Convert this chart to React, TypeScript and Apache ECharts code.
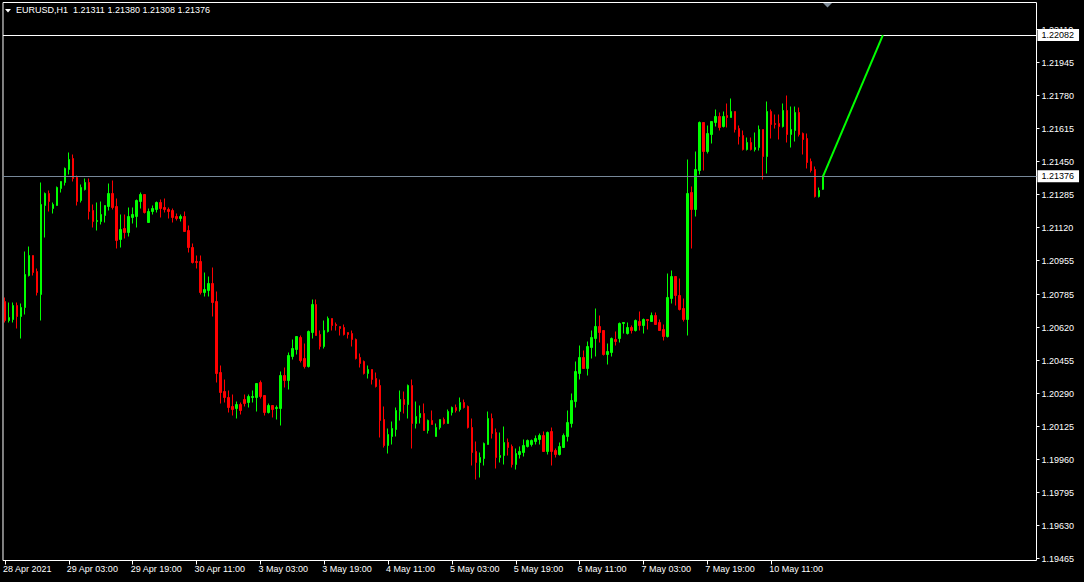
import React, { useEffect, useRef } from 'react';
import * as echarts from 'echarts';

// ---- data (EURUSD H1) ----
const opens = [
  1.20750, 1.20655, 1.20660, 1.20730, 1.20675, 1.20720, 1.20880, 1.20980, 1.20900, 1.20785,
  1.21230, 1.21290, 1.21215, 1.21230, 1.21315, 1.21345, 1.21410, 1.21465, 1.21370, 1.21255,
  1.21310, 1.21345, 1.21205, 1.21150, 1.21150, 1.21180, 1.21225, 1.21290, 1.21225, 1.21060,
  1.21115, 1.21095, 1.21170, 1.21175, 1.21250, 1.21285, 1.21145, 1.21200, 1.21210, 1.21245,
  1.21220, 1.21210, 1.21205, 1.21175, 1.21165, 1.21175, 1.21105, 1.21020, 1.20950, 1.20950,
  1.20795, 1.20805, 1.20840, 1.20750, 1.20395, 1.20300, 1.20270, 1.20225, 1.20215, 1.20235,
  1.20260, 1.20245, 1.20270, 1.20270, 1.20345, 1.20280, 1.20195, 1.20230, 1.20215, 1.20215,
  1.20380, 1.20355, 1.20475, 1.20510, 1.20570, 1.20465, 1.20425, 1.20595, 1.20735, 1.20585,
  1.20525, 1.20600, 1.20665, 1.20635, 1.20625, 1.20620, 1.20595, 1.20590, 1.20560, 1.20470,
  1.20450, 1.20390, 1.20410, 1.20365, 1.20330, 1.20160, 1.20030, 1.20075, 1.20110, 1.20200,
  1.20260, 1.20235, 1.20330, 1.20140, 1.20170, 1.20190, 1.20105, 1.20155, 1.20075, 1.20120,
  1.20160, 1.20140, 1.20195, 1.20220, 1.20210, 1.20245, 1.20225, 1.20120, 1.20000, 1.19945,
  1.19965, 1.20035, 1.20165, 1.20095, 1.19970, 1.19980, 1.20045, 1.20025, 1.19935, 1.19985,
  1.19995, 1.20025, 1.20035, 1.20050, 1.20060, 1.20080, 1.20000, 1.20100, 1.20005, 1.19985,
  1.20020, 1.20075, 1.20140, 1.20250, 1.20390, 1.20470, 1.20415, 1.20520, 1.20565, 1.20625,
  1.20605, 1.20485, 1.20495, 1.20560, 1.20565, 1.20640, 1.20590, 1.20620, 1.20605, 1.20650,
  1.20630, 1.20660, 1.20650, 1.20680, 1.20645, 1.20610, 1.20575, 1.20765, 1.20875, 1.20780,
  1.20715, 1.20660, 1.21295, 1.21210, 1.21405, 1.21645, 1.21500, 1.21585, 1.21645, 1.21675,
  1.21625, 1.21680, 1.21670, 1.21700, 1.21615, 1.21580, 1.21510, 1.21545, 1.21510, 1.21520,
  1.21610, 1.21475, 1.21700, 1.21640, 1.21640, 1.21625, 1.21705, 1.21585, 1.21605, 1.21695,
  1.21590, 1.21565, 1.21450, 1.21410, 1.21275, 1.21311,
];

const closes = [
  1.20655, 1.20670, 1.20730, 1.20675, 1.20720, 1.20885, 1.20980, 1.20895, 1.20795, 1.21235,
  1.21290, 1.21250, 1.21235, 1.21320, 1.21350, 1.21415, 1.21460, 1.21365, 1.21250, 1.21320,
  1.21345, 1.21200, 1.21150, 1.21155, 1.21185, 1.21230, 1.21290, 1.21220, 1.21055, 1.21110,
  1.21095, 1.21175, 1.21185, 1.21255, 1.21285, 1.21195, 1.21200, 1.21215, 1.21245, 1.21215,
  1.21210, 1.21200, 1.21170, 1.21165, 1.21175, 1.21100, 1.21020, 1.20945, 1.20945, 1.20795,
  1.20810, 1.20840, 1.20745, 1.20390, 1.20295, 1.20270, 1.20220, 1.20210, 1.20235, 1.20205,
  1.20240, 1.20275, 1.20275, 1.20340, 1.20275, 1.20195, 1.20230, 1.20210, 1.20220, 1.20380,
  1.20355, 1.20480, 1.20515, 1.20575, 1.20455, 1.20425, 1.20600, 1.20735, 1.20580, 1.20525,
  1.20605, 1.20665, 1.20630, 1.20630, 1.20615, 1.20585, 1.20585, 1.20560, 1.20465, 1.20440,
  1.20390, 1.20410, 1.20360, 1.20325, 1.20155, 1.20030, 1.20085, 1.20115, 1.20205, 1.20260,
  1.20235, 1.20330, 1.20140, 1.20175, 1.20190, 1.20105, 1.20155, 1.20135, 1.20120, 1.20160,
  1.20140, 1.20200, 1.20220, 1.20205, 1.20245, 1.20220, 1.20120, 1.19995, 1.19945, 1.19970,
  1.20040, 1.20165, 1.20090, 1.19970, 1.19980, 1.20045, 1.20020, 1.19935, 1.19990, 1.20000,
  1.20030, 1.20055, 1.20055, 1.20065, 1.20080, 1.20000, 1.20095, 1.20000, 1.19985, 1.20025,
  1.20080, 1.20145, 1.20255, 1.20400, 1.20470, 1.20415, 1.20525, 1.20570, 1.20625, 1.20595,
  1.20485, 1.20500, 1.20565, 1.20550, 1.20640, 1.20645, 1.20620, 1.20605, 1.20655, 1.20630,
  1.20660, 1.20655, 1.20680, 1.20635, 1.20605, 1.20575, 1.20770, 1.20875, 1.20780, 1.20710,
  1.20660, 1.21290, 1.21210, 1.21410, 1.21645, 1.21500, 1.21590, 1.21650, 1.21675, 1.21620,
  1.21675, 1.21670, 1.21700, 1.21610, 1.21575, 1.21510, 1.21545, 1.21510, 1.21520, 1.21610,
  1.21475, 1.21700, 1.21635, 1.21635, 1.21625, 1.21705, 1.21585, 1.21610, 1.21695, 1.21585,
  1.21560, 1.21445, 1.21405, 1.21275, 1.21305, 1.21376,
];

const lows = [
  1.20645, 1.20645, 1.20645, 1.20615, 1.20565, 1.20685, 1.20875, 1.20880, 1.20780, 1.20655,
  1.21070, 1.21200, 1.21190, 1.21230, 1.21295, 1.21330, 1.21385, 1.21350, 1.21230, 1.21245,
  1.21305, 1.21160, 1.21120, 1.21105, 1.21135, 1.21145, 1.21205, 1.21210, 1.21015, 1.21020,
  1.21065, 1.21075, 1.21140, 1.21120, 1.21215, 1.21190, 1.21145, 1.21185, 1.21195, 1.21170,
  1.21195, 1.21165, 1.21145, 1.21155, 1.21150, 1.21100, 1.20995, 1.20940, 1.20915, 1.20785,
  1.20775, 1.20775, 1.20675, 1.20345, 1.20240, 1.20245, 1.20195, 1.20180, 1.20165, 1.20185,
  1.20225, 1.20220, 1.20245, 1.20200, 1.20265, 1.20180, 1.20190, 1.20170, 1.20160, 1.20130,
  1.20320, 1.20310, 1.20460, 1.20485, 1.20445, 1.20415, 1.20420, 1.20565, 1.20580, 1.20510,
  1.20515, 1.20595, 1.20605, 1.20605, 1.20580, 1.20580, 1.20565, 1.20525, 1.20460, 1.20420,
  1.20385, 1.20365, 1.20335, 1.20320, 1.20070, 1.20020, 1.19990, 1.20035, 1.20075, 1.20155,
  1.20190, 1.20165, 1.20015, 1.20115, 1.20140, 1.20105, 1.20090, 1.20135, 1.20075, 1.20110,
  1.20135, 1.20140, 1.20180, 1.20195, 1.20200, 1.20215, 1.20115, 1.19930, 1.19860, 1.19870,
  1.19930, 1.20035, 1.20065, 1.19915, 1.19945, 1.19935, 1.19980, 1.19920, 1.19910, 1.19965,
  1.19975, 1.20020, 1.20025, 1.20035, 1.20035, 1.20000, 1.19985, 1.19930, 1.19970, 1.19980,
  1.20020, 1.20050, 1.20120, 1.20220, 1.20360, 1.20415, 1.20380, 1.20465, 1.20475, 1.20545,
  1.20480, 1.20435, 1.20475, 1.20530, 1.20545, 1.20590, 1.20585, 1.20590, 1.20600, 1.20605,
  1.20590, 1.20610, 1.20650, 1.20635, 1.20605, 1.20555, 1.20570, 1.20740, 1.20730, 1.20705,
  1.20650, 1.20580, 1.21015, 1.21175, 1.21385, 1.21405, 1.21490, 1.21540, 1.21625, 1.21605,
  1.21620, 1.21620, 1.21670, 1.21595, 1.21535, 1.21505, 1.21505, 1.21505, 1.21500, 1.21505,
  1.21360, 1.21390, 1.21565, 1.21615, 1.21560, 1.21620, 1.21545, 1.21520, 1.21550, 1.21575,
  1.21485, 1.21415, 1.21395, 1.21270, 1.21270, 1.21308,
];

const highs = [
  1.20770, 1.20745, 1.20745, 1.20745, 1.20740, 1.21000, 1.21025, 1.20980, 1.20915, 1.21345,
  1.21295, 1.21305, 1.21245, 1.21325, 1.21350, 1.21420, 1.21495, 1.21485, 1.21380, 1.21335,
  1.21365, 1.21365, 1.21235, 1.21245, 1.21250, 1.21230, 1.21340, 1.21355, 1.21265, 1.21185,
  1.21185, 1.21220, 1.21220, 1.21260, 1.21295, 1.21285, 1.21215, 1.21230, 1.21250, 1.21260,
  1.21265, 1.21220, 1.21215, 1.21190, 1.21185, 1.21200, 1.21130, 1.21040, 1.20980, 1.20980,
  1.20895, 1.20875, 1.20920, 1.20800, 1.20430, 1.20360, 1.20305, 1.20285, 1.20250, 1.20245,
  1.20285, 1.20285, 1.20305, 1.20340, 1.20355, 1.20280, 1.20240, 1.20230, 1.20230, 1.20400,
  1.20420, 1.20495, 1.20560, 1.20575, 1.20580, 1.20540, 1.20605, 1.20760, 1.20760, 1.20605,
  1.20655, 1.20675, 1.20665, 1.20645, 1.20625, 1.20635, 1.20595, 1.20605, 1.20565, 1.20490,
  1.20455, 1.20430, 1.20410, 1.20395, 1.20360, 1.20225, 1.20115, 1.20150, 1.20220, 1.20305,
  1.20300, 1.20335, 1.20360, 1.20250, 1.20230, 1.20240, 1.20160, 1.20205, 1.20140, 1.20160,
  1.20170, 1.20210, 1.20225, 1.20235, 1.20270, 1.20260, 1.20230, 1.20165, 1.20050, 1.19995,
  1.20045, 1.20200, 1.20190, 1.20115, 1.20095, 1.20125, 1.20065, 1.20035, 1.20015, 1.20025,
  1.20060, 1.20060, 1.20060, 1.20080, 1.20090, 1.20100, 1.20100, 1.20120, 1.20015, 1.20045,
  1.20090, 1.20205, 1.20290, 1.20450, 1.20530, 1.20505, 1.20550, 1.20605, 1.20715, 1.20680,
  1.20605, 1.20540, 1.20570, 1.20600, 1.20645, 1.20645, 1.20645, 1.20630, 1.20660, 1.20700,
  1.20665, 1.20660, 1.20695, 1.20695, 1.20660, 1.20635, 1.20890, 1.20905, 1.20875, 1.20865,
  1.20765, 1.21460, 1.21325, 1.21500, 1.21650, 1.21645, 1.21630, 1.21650, 1.21710, 1.21695,
  1.21700, 1.21740, 1.21765, 1.21700, 1.21630, 1.21605, 1.21570, 1.21570, 1.21595, 1.21630,
  1.21610, 1.21750, 1.21710, 1.21685, 1.21685, 1.21740, 1.21780, 1.21725, 1.21725, 1.21720,
  1.21595, 1.21590, 1.21465, 1.21425, 1.21320, 1.21380,
];

const xTickLabels = [
  '28 Apr 2021', '29 Apr 03:00', '29 Apr 19:00', '30 Apr 11:00', '3 May 03:00',
  '3 May 19:00', '4 May 11:00', '5 May 03:00', '5 May 19:00', '6 May 11:00',
  '7 May 03:00', '7 May 19:00', '10 May 11:00',
];
const xTickStep = 16;
const totalSlots = 259; // visible bar slots including the chart shift

const yTickLabels = [
  '1.19465', '1.19630', '1.19795', '1.19960', '1.20125', '1.20290', '1.20455', '1.20620',
  '1.20785', '1.20955', '1.21120', '1.21285', '1.21450', '1.21615', '1.21780', '1.21945', '1.22110',
];
const yMin = 1.19455;
const yMax = 1.22245;

const symbolTitle = 'EURUSD,H1  1.21311 1.21380 1.21308 1.21376';
const bidPrice = 1.21376;
const levelPrice = 1.22082;
const trendStartIndex = 205;
const trendEndIndex = 220;

export default function App() {
  const ref = useRef<HTMLDivElement>(null);
  useEffect(() => {
    document.body.style.margin = '0';
    document.body.style.background = '#000';
    const chart = echarts.init(ref.current as HTMLDivElement, null, { renderer: 'svg' });
    const categories = Array.from({ length: totalSlots }, (_, i) => String(i));
    const candleData = opens.map((o, i) => [o, closes[i], lows[i], highs[i]]);
    const tickShown = (index: number) =>
      index % xTickStep === 0 && index / xTickStep < xTickLabels.length;
    const font = 'Liberation Sans';
    const priceBox = {
      show: true,
      position: 'end',
      backgroundColor: '#ffffff',
      color: '#000000',
      fontFamily: font,
      fontSize: 9,
      padding: [2, 5, 1, 4],
      distance: 1,
    };

    chart.setOption({
      animation: false,
      backgroundColor: '#000000',
      textStyle: { fontFamily: font, fontSize: 9, color: '#ffffff' },
      grid: {
        show: true,
        left: -0.5,
        right: 47.5,
        top: 2.5,
        bottom: 21.5,
        borderColor: '#ffffff',
        borderWidth: 1,
        backgroundColor: 'transparent',
      },
      xAxis: {
        type: 'category',
        data: categories,
        boundaryGap: true,
        axisLine: { show: false },
        axisTick: {
          show: true,
          alignWithLabel: true,
          length: 4,
          interval: (index: number) => tickShown(index),
          lineStyle: { color: '#ffffff', width: 1 },
        },
        axisLabel: {
          show: true,
          interval: (index: number) => tickShown(index),
          formatter: (_v: string, index: number) =>
            tickShown(index) ? xTickLabels[index / xTickStep] : '',
          color: '#ffffff',
          fontFamily: font,
          fontSize: 9,
          align: 'left',
          margin: 4,
          padding: [0, 0, 0, -2],
        },
        splitLine: { show: false },
      },
      yAxis: {
        type: 'value',
        position: 'right',
        min: yMin,
        max: yMax,
        scale: true,
        axisLine: { show: false },
        axisTick: {
          show: true,
          length: 3,
          customValues: yTickLabels.map(Number),
          lineStyle: { color: '#ffffff', width: 1 },
        },
        axisLabel: {
          show: true,
          customValues: yTickLabels.map(Number),
          formatter: (v: number) => v.toFixed(5),
          color: '#ffffff',
          fontFamily: font,
          fontSize: 9,
          margin: 5,
        },
        splitLine: { show: false },
      },
      series: [
        {
          type: 'candlestick',
          data: candleData,
          barWidth: 2,
          silent: true,
          itemStyle: {
            color: '#00ff00',
            color0: '#ff0000',
            borderColor: '#00ff00',
            borderColor0: '#ff0000',
            borderWidth: 1,
          },
          markLine: {
            silent: true,
            symbol: ['none', 'none'],
            precision: 5,
            animation: false,
            data: [
              {
                yAxis: levelPrice,
                lineStyle: { color: '#ffffff', width: 1, type: 'solid' },
                label: { ...priceBox, formatter: levelPrice.toFixed(5) },
              },
              {
                yAxis: bidPrice,
                lineStyle: { color: '#778899', width: 1, type: 'solid' },
                label: { ...priceBox, formatter: bidPrice.toFixed(5) },
              },
              [
                {
                  coord: [categories[trendStartIndex], bidPrice],
                  lineStyle: { color: '#00ff00', width: 2, type: 'solid' },
                  label: { show: false },
                },
                {
                  coord: [categories[trendEndIndex], levelPrice],
                  lineStyle: { color: '#00ff00', width: 2, type: 'solid' },
                  label: { show: false },
                },
              ],
            ],
          },
        },
      ],
      graphic: [
        {
          type: 'polygon',
          shape: { points: [[5, 9], [11, 9], [8, 12.5]] },
          style: { fill: '#ffffff' },
          silent: true,
        },
        {
          type: 'text',
          left: 16,
          top: 5,
          style: { text: symbolTitle, fill: '#ffffff', fontFamily: font, fontSize: 9 },
          silent: true,
        },
        {
          type: 'polygon',
          shape: { points: [[823, 3], [832, 3], [827.5, 7.5]] },
          style: { fill: '#7f8c99' },
          silent: true,
        },
      ],
    });
    return () => chart.dispose();
  }, []);
  return <div ref={ref} style={{ width: 1084, height: 582, background: '#000' }} />;
}
